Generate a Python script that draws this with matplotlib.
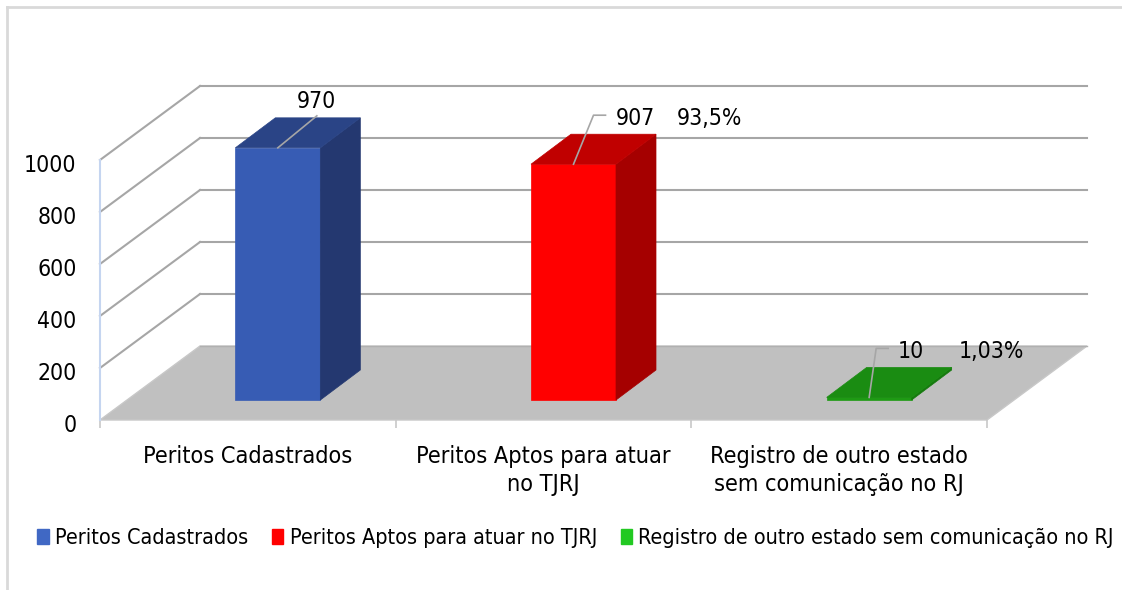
import matplotlib
matplotlib.use("Agg")
import matplotlib.pyplot as plt
from matplotlib.patches import Polygon, Patch
from matplotlib.lines import Line2D
from matplotlib.transforms import ScaledTranslation

categories = ["Peritos Cadastrados", "Peritos Aptos para atuar\nno TJRJ",
              "Registro de outro estado\nsem comunicação no RJ"]
legend_labels = ["Peritos Cadastrados", "Peritos Aptos para atuar no TJRJ",
                 "Registro de outro estado sem comunicação no RJ"]
values = [970, 907, 10]
percent_labels = ["", "93,5%", "1,03%"]
yticks = [0, 200, 400, 600, 800, 1000]

front_colors = ["#375cb4", "#ff0000", "#1e9a14"]
top_colors = ["#2a4486", "#c00000", "#1a8c12"]
side_colors = ["#243870", "#a50000", "#157a0e"]
legend_colors = ["#4068c4", "#ff0000", "#22c922"]

plt.rcParams['font.family'] = ['DejaVu Sans']
plt.rcParams['font.stretch'] = 'condensed'

W, H = 1122, 590
fig = plt.figure(figsize=(W / 100, H / 100), dpi=100)

# axes = front plane of the 3D box
x0p, x1p, y0p, y1p = 100, 987, 420, 160
ax = fig.add_axes([x0p / W, 1 - y0p / H, (x1p - x0p) / W, (y0p - y1p) / H])
ax.set_xlim(-0.5, 2.5)
ax.set_ylim(0, 1000)
for s in ax.spines.values():
    s.set_visible(False)
ax.patch.set_alpha(0)

pxx = (x1p - x0p) / 3.0          # px per category
pxy = (y0p - y1p) / 1000.0       # px per value unit
DX = 100 / pxx                   # depth offset in data units
DY = 74 / pxy

grid_c = "#a6a6a6"
floor = Polygon([(-0.5, 0), (-0.5 + DX, DY), (2.5 + DX, DY), (2.5, 0)],
                closed=True, facecolor="#c0c0c0", edgecolor="#c8c8c8",
                lw=1, clip_on=False, zorder=1)
ax.add_patch(floor)
for v in yticks[1:]:
    ax.plot([-0.5, -0.5 + DX], [v, v + DY], color=grid_c, lw=1.5,
            clip_on=False, zorder=1)
    ax.plot([-0.5 + DX, 2.5 + DX], [v + DY, v + DY], color=grid_c, lw=1.5,
            clip_on=False, zorder=1)
ax.plot([-0.5 + DX, 2.5 + DX], [DY, DY], color="#b0b0b0", lw=1,
        clip_on=False, zorder=1.5)
ax.plot([-0.5, -0.5], [0, 1000], color="#c5d5f0", lw=1.5, clip_on=False, zorder=2)

bw = 85 / pxx
f0x, f0y = 0.30, 0.27
ddx, ddy = 40 / pxx, 30 / pxy
for i, v in enumerate(values):
    xl = i - bw / 2 + f0x * DX
    xr = xl + bw
    yb = f0y * DY
    front = Polygon([(xl, yb), (xr, yb), (xr, yb + v), (xl, yb + v)],
                    facecolor=front_colors[i], edgecolor=front_colors[i], lw=0.5,
                    clip_on=False, zorder=3)
    side = Polygon([(xr, yb), (xr + ddx, yb + ddy), (xr + ddx, yb + ddy + v), (xr, yb + v)],
                   facecolor=side_colors[i], edgecolor=side_colors[i], lw=0.5,
                   clip_on=False, zorder=3)
    top = Polygon([(xl, yb + v), (xr, yb + v), (xr + ddx, yb + ddy + v), (xl + ddx, yb + ddy + v)],
                  facecolor=top_colors[i], edgecolor=top_colors[i], lw=0.5,
                  clip_on=False, zorder=3)
    for p in (front, side, top):
        ax.add_patch(p)

lab_fs = 16.5
def pxoff(dxp, dyp):
    return dxp / pxx, -dyp / pxy

leaders = [
    [(0, 0), (39, -32)],
    [(0, 0), (20, -49), (32, -49)],
    [(0, 0), (7, -49), (19, -49)],
]
for i, v in enumerate(values):
    ax_x = i + f0x * DX
    ax_y = f0y * DY + v
    pts = [(ax_x + pxoff(*p)[0], ax_y + pxoff(*p)[1]) for p in leaders[i]]
    ax.plot([p[0] for p in pts], [p[1] for p in pts], color="#a6a6a6", lw=1.2,
            clip_on=False, zorder=4)
    if i == 0:
        tx, ty = pxoff(39, -40)
        ax.text(ax_x + tx, ax_y + ty, str(v), ha="center", va="baseline",
                fontsize=lab_fs, color="black", zorder=5)
    else:
        ex, ey = pts[-1]
        ax.text(ex + 10 / pxx, ey - 10 / pxy, str(v), ha="left", va="baseline",
                fontsize=lab_fs, color="black", zorder=5)
        ax.text(ex + (10 + 61) / pxx, ey - 10 / pxy, percent_labels[i], ha="left",
                va="baseline", fontsize=lab_fs, color="black", zorder=5)

ax.set_yticks(yticks)
ax.set_yticklabels([str(t) for t in yticks], fontsize=16.5)
ax.tick_params(axis="y", length=0, pad=17)
ax.set_xticks(range(len(categories)))
ax.set_xticklabels(categories, fontsize=16.8, linespacing=1.25)
ax.tick_params(axis="x", which="major", length=0, pad=18)
ax.set_xticks([-0.5, 0.5, 1.5, 2.5], minor=True)
ax.tick_params(axis="x", which="minor", length=6, color="#c8c8c8", width=1.2)
shift = ScaledTranslation(0, -3 / 100, fig.dpi_scale_trans)
for t in ax.get_yticklabels():
    t.set_verticalalignment("center_baseline")
    t.set_transform(t.get_transform() + shift)

handles = [Patch(facecolor=c, edgecolor=c) for c in legend_colors]
fig.legend(handles, legend_labels, loc="center", bbox_to_anchor=(0.513, 1 - 538 / H),
           ncol=3, frameon=False, fontsize=15.5, handlelength=0.52, handleheight=0.72,
           handletextpad=0.3, columnspacing=1.1)

fig.add_artist(Line2D([7 / W, 1], [1 - 6.5 / H, 1 - 6.5 / H], color="#d9d9d9", lw=2))
fig.add_artist(Line2D([7 / W, 7 / W], [0, 1 - 6.5 / H], color="#d9d9d9", lw=2))

fig.savefig("out.png", dpi=100)
